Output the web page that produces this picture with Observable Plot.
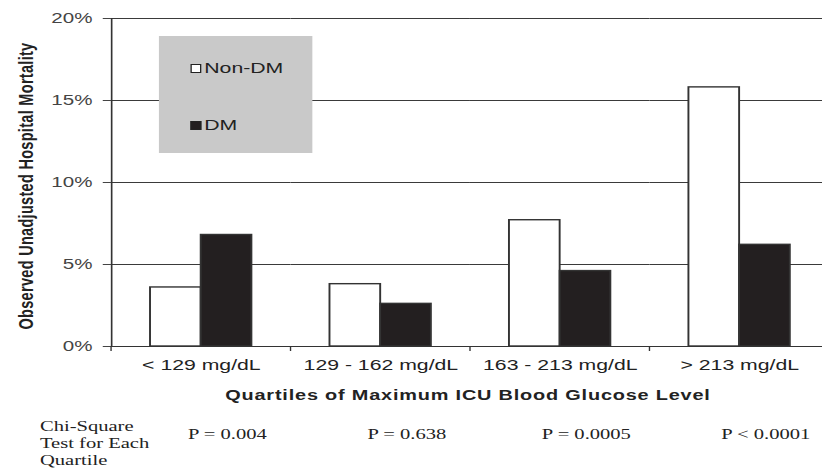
<!DOCTYPE html>
<html>
<head>
<meta charset="utf-8">
<script src="https://cdn.jsdelivr.net/npm/d3@7"></script>
<script src="https://cdn.jsdelivr.net/npm/@observablehq/plot@0.6"></script>
<style>
  html, body { margin: 0; padding: 0; background: #fff; overflow: hidden; }
  #outer { position: relative; width: 822px; height: 469px; overflow: hidden; background: #fff; }
  #inner { position: absolute; left: 0; top: 0; width: 607px; height: 469px; transform: scaleX(1.37); transform-origin: 0 0; }
  #chart { position: absolute; left: 0; top: 0; width: 607px; }
  .sans { font-family: "Liberation Sans", Arial, sans-serif; color: #222; }
  .serif { font-family: "Liberation Serif", "Times New Roman", serif; color: #222; }
  #legend { position: absolute; left: 116.1px; top: 36px; width: 111.7px; height: 117px; background: #c9c9c9; }
  .item { position: absolute; left: 23.3px; height: 16px; display: flex; align-items: center; font-size: 15.5px; white-space: nowrap; }
  .sw { width: 7.3px; height: 9px; box-sizing: border-box; border: 1px solid #222; margin-right: 2.4px; }
  #xtitle { position: absolute; left: 341.6px; top: 386px; transform: translateX(-50%); font-weight: bold; font-size: 14.5px; letter-spacing: 0.6px; line-height: 18px; white-space: nowrap; }
  #ytitle { position: absolute; left: 19px; top: 186px; transform: translate(-50%, -50%) rotate(-90deg); font-weight: bold; font-size: 14.5px; letter-spacing: 0.3px; line-height: 16px; white-space: nowrap; }
  #chi { position: absolute; left: 29.2px; top: 418px; font-size: 15px; line-height: 17px; white-space: nowrap; }
</style>
</head>
<body>
<div id="outer">
  <div id="inner">
    <div id="chart"></div>
    <div id="legend" class="sans"></div>
    <div id="xtitle" class="sans"></div>
    <div id="ytitle" class="sans"></div>
    <div id="chi" class="serif"></div>
  </div>
</div>
<script>
// ---- data ----
const categories = ["< 129 mg/dL", "129 - 162 mg/dL", "163 - 213 mg/dL", "> 213 mg/dL"];
const series = ["Non-DM", "DM"];
const seriesColors = ["#ffffff", "#231f20"];
const nonDM = [3.6, 3.8, 7.7, 15.8];
const dm = [6.8, 2.6, 4.6, 6.2];
const pValues = ["P = 0.004", "P = 0.638", "P = 0.0005", "P < 0.0001"];
const yTicks = [0, 5, 10, 15, 20];
const xTitle = "Quartiles of Maximum ICU Blood Glucose Level";
const yTitle = "Observed Unadjusted Hospital Mortality";
const chiLines = ["Chi-Square", "Test for Each", "Quartile"];

// ---- tables ----
const data = categories.flatMap((c, i) => [
  {cat: c, series: series[0], value: nonDM[i]},
  {cat: c, series: series[1], value: dm[i]}
]);
const pData = categories.map((c, i) => ({cat: c, p: pValues[i]}));

// ---- layout ----
const W = 607, H = 469;
const mL = 79.5, mR = 0, mT = 18, mB = 123;
const facetW = (W - mL - mR) / categories.length;

const chart = Plot.plot({
  width: W,
  height: H,
  marginLeft: mL,
  marginRight: mR,
  marginTop: mT,
  marginBottom: mB,
  style: {fontFamily: "'Liberation Sans', Arial, sans-serif", fontSize: "15px", color: "#222", background: "transparent", overflow: "visible"},
  fx: {domain: categories, padding: 0},
  x: {domain: series, paddingInner: 0, paddingOuter: 0.74, axis: null},
  y: {domain: [0, 20]},
  color: {domain: series, range: seriesColors},
  marks: [
    Plot.ruleY(yTicks.filter(d => d > 0), {stroke: "#3a3a3a", strokeWidth: 1}),
    Plot.barY(data, {fx: "cat", x: "series", y: "value", fill: "series", stroke: "#333", strokeWidth: 1.4}),
    Plot.ruleY([0], {stroke: "#333", strokeWidth: 1.2}),
    Plot.frame({anchor: "left", facetAnchor: "left", stroke: "#333", strokeWidth: 1.2}),
    Plot.axisY({ticks: yTicks, tickFormat: d => d + "%", tickSize: 6, tickPadding: 8, fontSize: 15, color: "#444", label: null}),
    Plot.axisFx({anchor: "bottom", tickSize: 5, text: null, dx: -facetW / 2, label: null, color: "#333"}),
    Plot.axisFx({anchor: "bottom", tickSize: 0, tickPadding: 12, fontSize: 15.5, label: null, color: "#222"}),
    Plot.text(pData, {fx: "cat", text: "p", frameAnchor: "bottom", dy: 92, dx: 19, fontFamily: "'Liberation Serif', 'Times New Roman', serif", fontSize: 15, fill: "#222"})
  ]
});
document.getElementById("chart").appendChild(chart);

// ---- legend & titles (HTML) ----
const legend = document.getElementById("legend");
const itemTops = [24, 81];
series.forEach((s, i) => {
  const item = document.createElement("div");
  item.className = "item";
  item.style.top = itemTops[i] + "px";
  const sw = document.createElement("div");
  sw.className = "sw";
  sw.style.background = seriesColors[i];
  const lab = document.createElement("span");
  lab.textContent = s;
  item.appendChild(sw);
  item.appendChild(lab);
  legend.appendChild(item);
});
document.getElementById("xtitle").textContent = xTitle;
document.getElementById("ytitle").textContent = yTitle;
document.getElementById("chi").innerHTML = chiLines.map(t => t.replace(/&/g, "&amp;")).join("<br>");
</script>
</body>
</html>
